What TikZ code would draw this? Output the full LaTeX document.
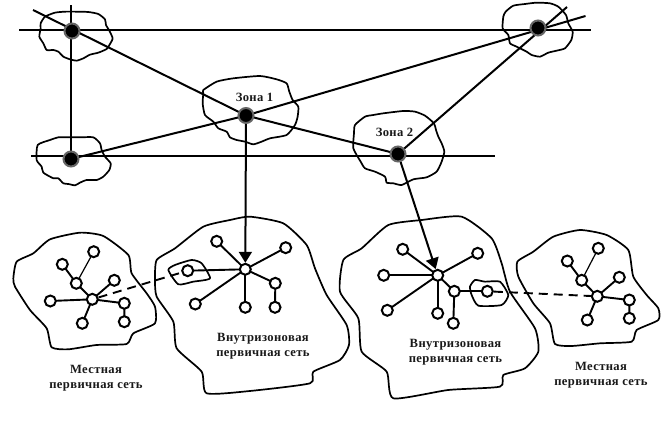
\documentclass[tikz,border=0pt]{standalone}
\usepackage{fontspec}
\setmainfont[LetterSpace=3]{Liberation Serif}
\usetikzlibrary{arrows.meta,backgrounds}
\tikzset{
  blob/.style={draw=black,line width=1.7pt,line join=round},
  bb/.style={circle,fill=black,draw=black!60,line width=2pt,minimum size=15pt,inner sep=0pt},
  nd/.style={circle,fill=white,draw=black,line width=2pt,minimum size=11pt,inner sep=0pt},
  link/.style={draw=black,line width=2pt},
  thin link/.style={draw=black,line width=1.2pt},
  net/.style={draw=black,line width=1.9pt},
  dash link/.style={draw=black,line width=1.9pt,dash pattern=on 9pt off 6pt},
  tip/.style={-{Triangle[width=13pt,length=11pt]}},
  lab/.style={font=\fontsize{12.6}{14.6}\selectfont\bfseries,align=center,inner sep=0pt,text=black!90}
}
\newcommand{\zz}[4]{\draw[blob] plot[smooth cycle,tension=.35,shift={(#1,#2)},x=#3pt,y=-#3pt] coordinates {#4};}
\begin{document}
\begin{tikzpicture}[x=1pt,y=-1pt]
\useasboundingbox (0,0) rectangle (661,447);
% cloud outlines
\zz{0}{0}{0.3333}{(165,38)(195,35)(230,35)(265,36)(295,42)(315,58)(318,75)(328,92)(338,115)(330,132)(320,147)(295,158)(270,164)(250,175)(230,182)(210,178)(190,170)(175,155)(160,150)(140,150)(130,130)(118,110)(122,85)(122,70)(135,50)}
\zz{0}{0}{0.3333}{(150,420)(175,412)(200,412)(240,412)(280,412)(300,430)(305,450)(315,470)(332,490)(328,510)(310,530)(290,540)(260,540)(240,548)(225,556)(205,552)(190,550)(175,535)(160,535)(130,518)(125,500)(110,480)(113,435)}
\zz{0}{0}{0.3333}{(610,270)(650,245)(700,235)(780,228)(830,238)(860,250)(868,275)(878,300)(895,320)(893,350)(885,375)(860,405)(810,415)(785,425)(760,433)(735,425)(710,420)(690,412)(680,395)(655,385)(640,365)(615,345)(608,310)(610,280)}
\zz{330}{0}{0.3333}{(75,375)(105,350)(130,345)(160,340)(220,333)(255,335)(285,347)(312,370)(318,390)(325,410)(335,430)(343,455)(335,485)(320,515)(290,532)(250,538)(215,555)(190,550)(170,548)(165,530)(135,515)(105,505)(92,485)(70,445)(72,400)}
\zz{330}{0}{0.3333}{(520,50)(527,35)(550,17)(585,12)(620,8)(660,10)(685,20)(708,45)(715,70)(728,95)(724,120)(705,145)(680,152)(655,158)(630,170)(605,165)(590,155)(560,140)(540,130)(535,105)(518,85)}
\zz{0}{200}{0.3333}{(40,235)(50,185)(100,160)(150,118)(240,98)(310,108)(385,165)(395,220)(440,280)(465,320)(465,370)(400,400)(380,432)(290,435)(205,448)(155,442)(140,385)(90,330)(45,260)}
\zz{150}{205}{0.3333}{(15,225)(20,165)(75,130)(160,65)(240,45)(300,35)(400,55)(470,120)(495,190)(530,270)(590,360)(597,420)(570,465)(490,500)(480,535)(300,558)(170,565)(155,500)(80,430)(70,350)(20,275)}
\zz{335}{205}{0.3333}{(15,260)(25,165)(80,130)(160,60)(260,45)(380,35)(470,100)(500,175)(525,260)(600,370)(610,440)(570,490)(505,510)(495,545)(340,555)(175,580)(155,500)(80,440)(70,340)}
\zz{500}{220}{0.3333}{(52,125)(100,95)(160,50)(240,30)(320,45)(385,90)(400,170)(440,225)(475,265)(475,300)(410,330)(395,365)(300,370)(215,378)(165,372)(150,310)(100,250)(55,170)}
\zz{150}{205}{0.3333}{(55,195)(75,180)(125,165)(155,175)(180,220)(130,230)(85,238)}
\zz{335}{205}{0.3333}{(405,245)(420,225)(450,230)(495,230)(520,270)(500,300)(430,302)(410,270)}
% backbone nodes
\node[bb] (a) at (72,31) {};
\node[bb] (b) at (71,159) {};
\node[bb] (z1) at (246,115.5) {};
\node[bb] (z2) at (398,154) {};
\node[bb] (t) at (538,28) {};
\coordinate (h1l) at (19,30); \coordinate (h1r) at (591,30);
\coordinate (h2l) at (31,156); \coordinate (h2r) at (495,156);
\coordinate (vt) at (71,5);
\coordinate (ae) at (33,10);
\coordinate (te1) at (585.5,16);
\coordinate (te2) at (567,7);
% left local network
\node[nd] (l0) at (92.3,299.3) {};
\node[nd] (l1) at (93.7,251.7) {};
\node[nd] (l2) at (62.3,264.3) {};
\node[nd] (l3) at (76.3,283.3) {};
\node[nd] (l4) at (114.3,280.3) {};
\node[nd] (l5) at (50.3,301) {};
\node[nd] (l6) at (124.3,303.3) {};
\node[nd] (l7) at (124.3,321.7) {};
\node[nd] (l8) at (82.3,323.3) {};
% first intrazone network
\node[nd] (m0) at (245.3,269.3) {};
\node[nd] (m1) at (216.7,241.3) {};
\node[nd] (m2) at (285.7,247.7) {};
\node[nd] (m3) at (275.3,283.3) {};
\node[nd] (m4) at (275,307.3) {};
\node[nd] (m5) at (245.3,307.3) {};
\node[nd] (m6) at (195.3,304) {};
\node[nd] (m7) at (187.7,270.7) {};
% second intrazone network
\node[nd] (n0) at (437.7,275.3) {};
\node[nd] (n1) at (402.7,249.3) {};
\node[nd] (n2) at (477.7,253.3) {};
\node[nd] (n3) at (383.7,275.3) {};
\node[nd] (n4) at (387.3,310.3) {};
\node[nd] (n5) at (437.7,313.3) {};
\node[nd] (n6) at (454.3,291.3) {};
\node[nd] (n7) at (453.3,323.3) {};
\node[nd] (n8) at (487.3,291.3) {};
% right local network
\node[nd] (r0) at (597.3,296.3) {};
\node[nd] (r1) at (598.3,248.3) {};
\node[nd] (r2) at (567.3,261) {};
\node[nd] (r3) at (581.7,280.3) {};
\node[nd] (r4) at (619.3,277.3) {};
\node[nd] (r5) at (629.3,300) {};
\node[nd] (r6) at (629.3,318.3) {};
\node[nd] (r7) at (587.3,320) {};
% connectors
\begin{pgfonlayer}{background}
\draw[link] (h1l) -- (h1r);
\draw[link] (h2l) -- (h2r);
\draw[link] (vt) -- (b.center);
\draw[link] (ae) -- (z1.center);
\draw[link] (b.center) -- (z1.center);
\draw[link] (z1.center) -- (te1);
\draw[link] (z1.center) -- (z2.center);
\draw[link] (z2.center) -- (te2);
\draw[net] (l0.center) -- (l3.center) -- (l2.center);
\draw[thin link] (l3.center) -- (l1.center);
\draw[net] (l0.center) -- (l4.center);
\draw[net] (l0.center) -- (l5.center);
\draw[net] (l0.center) -- (l6.center) -- (l7.center);
\draw[net] (l0.center) -- (l8.center);
\draw[net] (m0.center) -- (m1.center);
\draw[net] (m0.center) -- (m2.center);
\draw[net] (m0.center) -- (m3.center) -- (m4.center);
\draw[net] (m0.center) -- (m5.center);
\draw[net] (m0.center) -- (m6.center);
\draw[net] (m0.center) -- (m7.center);
\draw[net] (n0.center) -- (n1.center);
\draw[net] (n0.center) -- (n2.center);
\draw[net] (n0.center) -- (n3.center);
\draw[net] (n0.center) -- (n4.center);
\draw[net] (n0.center) -- (n5.center);
\draw[net] (n0.center) -- (n6.center) -- (n7.center);
\draw[net] (n6.center) -- (n8.center);
\draw[net] (r0.center) -- (r3.center) -- (r2.center);
\draw[thin link] (r3.center) -- (r1.center);
\draw[net] (r0.center) -- (r4.center);
\draw[net] (r0.center) -- (r5.center) -- (r6.center);
\draw[net] (r0.center) -- (r7.center);
\draw[dash link] (l0) -- (m7);
\draw[dash link] (n8) -- (r0);
\end{pgfonlayer}
\draw[link,tip] (z1) -- (m0);
\draw[link,tip] (z2) -- (n0);
% labels
\node[lab] (tz1) at (254.5,97.5) {Зона 1};
\node[lab] (tz2) at (394.5,132.5) {Зона 2};
\node[lab] (tl) at (96,378) {Местная\\первичная сеть};
\node[lab] (tm) at (263,346) {Внутризоновая\\первичная сеть};
\node[lab] (tn) at (455.5,352) {Внутризоновая\\первичная сеть};
\node[lab] (tr) at (601,375) {Местная\\первичная сеть};
\end{tikzpicture}
\end{document}
